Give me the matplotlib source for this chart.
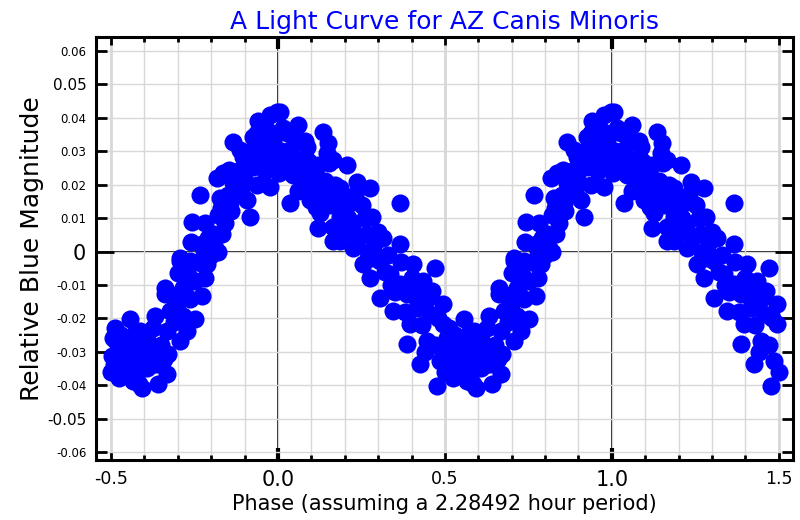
import numpy as np
import matplotlib.pyplot as plt

# one folded cycle of the light curve (phase 0..1)
phase = [
    0.775, 0.707, 0.701, 0.775, 0.662, 0.662, 0.716, 0.751, 0.772, 0.737,
    0.632, 0.677, 0.716, 0.751, 0.557, 0.512, 0.506, 0.503, 0.548, 0.587,
    0.626, 0.668, 0.707, 0.728, 0.671, 0.617, 0.566, 0.527, 0.536, 0.566,
    0.593, 0.641, 0.668, 0.608, 0.638,
    0.997, 0.940, 0.937, 0.865, 0.886, 0.925, 0.907, 0.946, 0.985, 0.976,
    0.835, 0.817, 0.865, 0.937, 0.976, 0.766, 0.826, 0.856, 0.907, 0.916,
    0.036, 0.743, 0.781, 0.820, 0.841, 0.805, 0.832, 0.772, 0.811, 0.707,
    0.737, 0.787, 0.722,
    0.853, 0.874, 0.895, 0.925, 0.964, 0.925,
    0.006, 0.976, 0.060, 0.135, 0.027, 0.985, 0.087, 0.150, 0.147, 0.036,
    0.000, 0.066, 0.207, 0.105, 0.165, 0.002, 0.045, 0.126, 0.237, 0.186,
    0.275, 0.096, 0.135, 0.216, 0.251, 0.126, 0.186, 0.281, 0.120, 0.165,
    0.225, 0.186, 0.225, 0.266, 0.254, 0.284, 0.275,
    0.075, 0.153, 0.105, 0.114, 0.153, 0.165,
    0.365, 0.314, 0.365, 0.284, 0.305, 0.404, 0.470, 0.335, 0.434, 0.365,
    0.461, 0.305, 0.386, 0.494, 0.344, 0.416, 0.455, 0.395, 0.494, 0.575,
    0.386, 0.446, 0.515, 0.425, 0.485, 0.545, 0.575, 0.476, 0.524, 0.584,
    0.52, 0.55, 0.58, 0.60, 0.62, 0.65, 0.69, 0.70, 0.73, 0.76,
    0.79, 0.80, 0.83, 0.85, 0.88, 0.90, 0.92, 0.95, 0.96, 0.99,
    0.01, 0.02, 0.05, 0.07, 0.09, 0.11, 0.14, 0.16, 0.19, 0.20,
    0.23, 0.24, 0.27, 0.30, 0.32, 0.35, 0.37, 0.38, 0.41, 0.43,
    0.45, 0.47, 0.50, 0.53,
    0.93, 0.97, 0.03, 0.08, 0.12, 0.89, 0.015, 0.06, 0.17, 0.21,
    0.26, 0.29, 0.33, 0.34, 0.40, 0.42, 0.44, 0.48, 0.51, 0.56,
    0.59, 0.61, 0.63, 0.66, 0.68, 0.74, 0.78, 0.82, 0.86,
]
mag = [
    0.0012, -0.0027, -0.0063, -0.0036, -0.0108, -0.0126, -0.0110, -0.0087, -0.0132, -0.0141,
    -0.0192, -0.0177, -0.0192, -0.0201, -0.0201, -0.0228, -0.0258, -0.0312, -0.0267, -0.0237,
    -0.0228, -0.0237, -0.0267, -0.0237, -0.0306, -0.0288, -0.0318, -0.0318, -0.0366, -0.0387,
    -0.0408, -0.0396, -0.0366, -0.0348, -0.0336,
    0.0417, 0.0390, 0.0354, 0.0327, 0.0303, 0.0294, 0.0264, 0.0264, 0.0303, 0.0342,
    0.0234, 0.0219, 0.0204, 0.0198, 0.0192, 0.0168, 0.0159, 0.0144, 0.0153, 0.0102,
    0.0144, 0.0087, 0.0084, 0.0108, 0.0084, 0.0054, 0.0054, 0.0024, 0.0012, -0.0018,
    -0.0027, -0.0036, -0.0126,
    0.0243, 0.0192, 0.0282, 0.0342, 0.0282, 0.0252,
    0.0417, 0.0408, 0.0378, 0.0357, 0.0354, 0.0333, 0.0312, 0.0324, 0.0294, 0.0303,
    0.0282, 0.0273, 0.0258, 0.0252, 0.0273, 0.0234, 0.0228, 0.0213, 0.0207, 0.0189,
    0.0189, 0.0153, 0.0174, 0.0144, 0.0138, 0.0114, 0.0102, 0.0102, 0.0069, 0.0072,
    0.0084, 0.0033, 0.0012, 0.0054, -0.0036, -0.0018, -0.0078,
    0.0252, 0.0264, 0.0204, 0.0132, 0.0153, 0.0033,
    0.0144, 0.0042, 0.0024, 0.0003, -0.0027, -0.0036, -0.0048, -0.0066, -0.0087, -0.0096,
    -0.0117, -0.0138, -0.0126, -0.0156, -0.0177, -0.0168, -0.0186, -0.0216, -0.0216, -0.0237,
    -0.0276, -0.0267, -0.0267, -0.0336, -0.0327, -0.0318, -0.0357, -0.0402, -0.0378, -0.0396,
    -0.030, -0.034, -0.030, -0.032, -0.034, -0.028, -0.021, -0.015, -0.007, -0.003,
    0.004, -0.001, 0.013, 0.017, 0.024, 0.021, 0.030, 0.031, 0.024, 0.027,
    0.030, 0.026, 0.033, 0.022, 0.027, 0.018, 0.021, 0.014, 0.015, 0.006,
    0.017, 0.004, 0.000, 0.006, -0.006, -0.012, -0.003, -0.018, -0.012, -0.022,
    -0.014, -0.028, -0.036, -0.025,
    0.027, 0.036, 0.024, 0.033, 0.026, 0.018, 0.037, 0.018, 0.020, 0.010,
    0.010, 0.003, -0.001, -0.010, -0.008, -0.015, -0.030, -0.020, -0.034, -0.027,
    -0.035, -0.027, -0.030, -0.032, -0.013, 0.003, -0.008, 0.000, 0.012,
]

x_ticks = np.round(np.arange(-0.5, 1.51, 0.1), 1)
x_tick_text = {-0.5: '-0.5', 0.0: '0.0', 0.5: '0.5', 1.0: '1.0', 1.5: '1.5'}
y_ticks = np.round(np.arange(-0.06, 0.061, 0.01), 2)

phase = np.array(phase)
mag = np.array(mag)

# the folded cycle is shown twice, from -0.5 to 1.5
x_all = np.concatenate([phase - 1, phase, phase + 1])
y_all = np.concatenate([mag, mag, mag])
keep = (x_all >= -0.5) & (x_all <= 1.5)

fig = plt.figure(figsize=(8, 5.2), dpi=100)
ax = fig.add_axes([0.12, 0.115, 0.871, 0.814])

ax.scatter(x_all[keep], y_all[keep], s=170, color='#0000ff', linewidths=0, zorder=3)

ax.set_xlim(-0.545, 1.542)
ax.set_ylim(-0.0624, 0.0642)

ax.set_xticks(x_ticks)
ax.set_xticklabels([x_tick_text.get(t, '') for t in x_ticks])
ax.set_yticks(y_ticks)
ax.set_yticklabels(['0' if t == 0 else f'{t:.2f}' for t in y_ticks])

ax.grid(color='#d8d8d8', lw=1, zorder=0)
for xv in (-0.5, 0.5, 1.5):
    ax.axvline(xv, color='#505050', lw=1, zorder=1)
for xv in (0.0, 1.0):
    ax.axvline(xv, color='black', lw=1.3, zorder=1)
ax.axhline(0, color='black', lw=1.3, zorder=1)

for sp in ax.spines.values():
    sp.set_linewidth(2.2)

ax.tick_params(direction='in', top=True, right=True, width=2, length=3.6, pad=7)
ax.tick_params(axis='y', length=8)

for tick in ax.xaxis.get_major_ticks():
    loc = round(tick.get_loc(), 1)
    if loc in (0.0, 1.0):
        for ln in (tick.tick1line, tick.tick2line):
            ln.set_markersize(8.6)
            ln.set_markeredgewidth(3)
        tick.label1.set_fontsize(15)
    elif loc in (-0.5, 0.5, 1.5):
        for ln in (tick.tick1line, tick.tick2line):
            ln.set_markersize(5.8)
        tick.label1.set_fontsize(12.5)

for tick in ax.yaxis.get_major_ticks():
    loc = round(tick.get_loc(), 2)
    if loc == 0:
        tick.label1.set_fontsize(15)
        for ln in (tick.tick1line, tick.tick2line):
            ln.set_markersize(13)
    elif abs(loc) == 0.05:
        tick.label1.set_fontsize(11)
    else:
        tick.label1.set_fontsize(8.5)

ax.set_title('A Light Curve for AZ Canis Minoris', color='#0000ff', fontsize=18, pad=6)
ax.set_xlabel('Phase (assuming a 2.28492 hour period)', fontsize=15, labelpad=3)
ax.set_ylabel('Relative Blue Magnitude', fontsize=18, labelpad=2)

fig.savefig('out.png', dpi=100)
